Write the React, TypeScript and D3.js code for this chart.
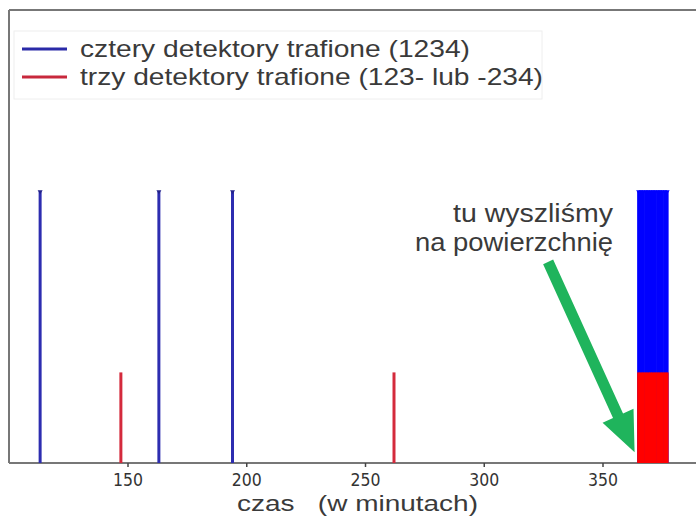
import React from "react";
import * as d3 from "d3";

// ---- data ----
const fourHitTimes = [113, 163, 194, 365, 366, 367, 368, 369, 370, 371, 372, 373, 374, 375, 376, 377];
const fourHitValue = 3;
const threeHitTimes = [147, 262, 365, 366, 367, 368, 369, 370, 371, 372, 373, 374, 375, 376, 377];
const threeHitValue = 1;
const xTicks = [150, 200, 250, 300, 350];
const legendLabels = ["cztery detektory trafione (1234)", "trzy detektory trafione (123- lub -234)"];
const xLabel = "czas   (w minutach)";
const noteLines = ["tu wyszliśmy", "na powierzchnię"];
const arrowFrom = [326.9, 2.22];
const arrowTo = [363.3, 0.12];
const noteAnchor = [354.2, 2.76];

const W = 696;
const H = 516;
const FONT = "'Liberation Sans', Arial, sans-serif";

export default function App() {
  const x = d3.scaleLinear().domain([150, 350]).range([128, 603]);
  const y = d3.scaleLinear().domain([0, 5]).range([463, 10]);
  const left = 9;
  const y0 = y(0);

  const stemColor = (t: number, bar: string, thin: string) => (t >= 360 ? bar : thin);

  // arrow geometry
  const ax0 = x(arrowFrom[0]), ay0 = y(arrowFrom[1]);
  const ax1 = x(arrowTo[0]), ay1 = y(arrowTo[1]);
  const dx = ax1 - ax0, dy = ay1 - ay0;
  const len = Math.hypot(dx, dy);
  const ux = dx / len, uy = dy / len;
  const px = -uy, py = ux;
  const shaftW = 5.5, headL = 40, headW = 17;
  const bx = ax1 - ux * headL, by = ay1 - uy * headL;
  const arrowPts = [
    [ax0 + px * shaftW, ay0 + py * shaftW],
    [bx + px * shaftW, by + py * shaftW],
    [bx + px * headW, by + py * headW],
    [ax1, ay1],
    [bx - px * headW, by - py * headW],
    [bx - px * shaftW, by - py * shaftW],
    [ax0 - px * shaftW, ay0 - py * shaftW],
  ]
    .map((p) => p.join(","))
    .join(" ");

  return (
    <svg
      width={W}
      height={H}
      style={{ position: "fixed", left: 0, top: 0, background: "#fff", fontFamily: FONT }}
    >
      <rect x={0} y={0} width={W} height={H} fill="#fff" />
      {/* spines */}
      <line x1={left} x2={W} y1={y(5)} y2={y(5)} stroke="#777" strokeWidth={2} />
      <line x1={left} x2={left} y1={y(5)} y2={y0} stroke="#777" strokeWidth={2} />
      <line x1={left} x2={W} y1={y0} y2={y0} stroke="#777" strokeWidth={2} />

      {/* ticks */}
      {xTicks.map((t) => (
        <g key={t}>
          <line x1={x(t)} x2={x(t)} y1={y0} y2={y0 + 4} stroke="#444" strokeWidth={1.5} />
          <text
            x={x(t)}
            y={486}
            textAnchor="middle"
            fontSize={17}
            fill="#333"
            fontFamily="'DejaVu Sans', sans-serif"
            textLength={30}
            lengthAdjust="spacingAndGlyphs"
          >
            {t}
          </text>
        </g>
      ))}

      {/* four-hit stems */}
      {fourHitTimes.map((t, i) => (
        <g key={"b" + i}>
          <line
            x1={x(t)}
            x2={x(t)}
            y1={y0}
            y2={y(fourHitValue)}
            stroke={stemColor(t, "#0000ff", "#2d2db0")}
            strokeWidth={3}
          />
          <path
            d={`M${x(t) - 2.5},${y(fourHitValue) - 1} L${x(t) + 2.5},${y(fourHitValue) - 1} L${x(t)},${y(fourHitValue) + 3} Z`}
            fill={stemColor(t, "#0000ff", "#22228a")}
          />
        </g>
      ))}
      {/* three-hit stems */}
      {threeHitTimes.map((t, i) => (
        <line
          key={"r" + i}
          x1={x(t)}
          x2={x(t)}
          y1={y0}
          y2={y(threeHitValue)}
          stroke={stemColor(t, "#ff0000", "#d42a3c")}
          strokeWidth={3}
        />
      ))}

      {/* legend */}
      <rect x={14} y={31} width={528} height={68} fill="none" stroke="#eeeeee" strokeWidth={1} />
      <line x1={22} x2={67} y1={49} y2={49} stroke="#2a2aa8" strokeWidth={3} />
      <line x1={22} x2={67} y1={77} y2={77} stroke="#c8283c" strokeWidth={3} />
      <text x={80} y={57} fontSize={24} fill="#3a3a3a" textLength={390} lengthAdjust="spacingAndGlyphs">
        {legendLabels[0]}
      </text>
      <text x={80} y={85} fontSize={24} fill="#3a3a3a" textLength={463} lengthAdjust="spacingAndGlyphs">
        {legendLabels[1]}
      </text>

      {/* annotation */}
      <polygon points={arrowPts} fill="#1fb45c" />
      <text x={x(noteAnchor[0])} y={y(noteAnchor[1]) + 9} textAnchor="end" fontSize={25} fill="#3a3a3a" textLength={160} lengthAdjust="spacingAndGlyphs">
        {noteLines[0]}
      </text>
      <text x={x(noteAnchor[0])} y={y(noteAnchor[1]) + 38} textAnchor="end" fontSize={25} fill="#3a3a3a" textLength={198} lengthAdjust="spacingAndGlyphs">
        {noteLines[1]}
      </text>

      {/* x label */}
      <text x={237} y={511} fontSize={22} fill="#3a3a3a" style={{ whiteSpace: "pre" }} textLength={241} lengthAdjust="spacingAndGlyphs">
        {xLabel}
      </text>
    </svg>
  );
}
